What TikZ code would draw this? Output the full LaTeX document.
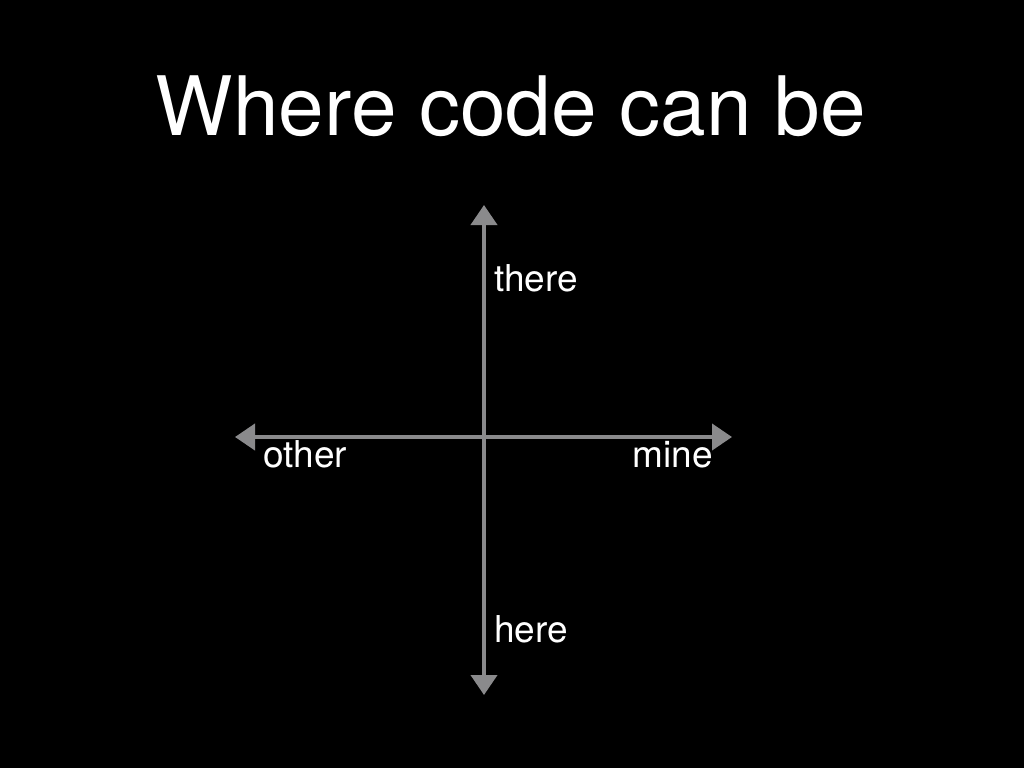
\documentclass[tikz,border=0pt]{standalone}
\usepackage{fontspec}
\setmainfont{TeX Gyre Heros}
\usetikzlibrary{arrows.meta}
\definecolor{axisgray}{RGB}{138,138,140}
\tikzset{
  axis/.style={draw=axisgray, line width=4pt, {Triangle[width=26pt,length=20pt]}-{Triangle[width=26pt,length=20pt]}},
  lbl/.style={text=white, anchor=base west, inner sep=0pt, font=\fontsize{37}{44}\selectfont},
  ttl/.style={text=white, anchor=base, inner sep=0pt, font=\fontsize{82}{98}\selectfont}
}
\begin{document}
\begin{tikzpicture}[x=1pt,y=-1pt]
\fill[black] (0,0) rectangle (1024,768);
\useasboundingbox (0,0) rectangle (1024,768);
\node[ttl] (title) at (511,135) {Where code can be};
\coordinate (top) at (484,205);
\coordinate (bottom) at (484,695);
\coordinate (left) at (235,437);
\coordinate (right) at (732,437);
\draw[axis] (bottom) -- (top);
\draw[axis] (left) -- (right);
\node[lbl] (there) at (494,291) {there};
\node[lbl] (other) at (263,467) {other};
\node[lbl, anchor=base east] (mine) at (713,467) {mine};
\node[lbl] (here) at (494,642) {here};
\end{tikzpicture}
\end{document}
